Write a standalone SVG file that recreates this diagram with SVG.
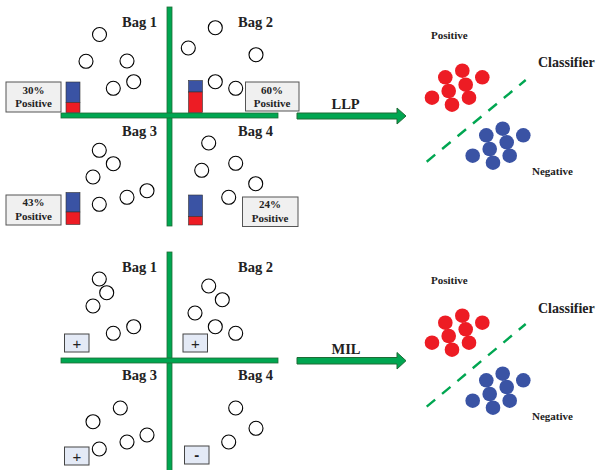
<svg xmlns="http://www.w3.org/2000/svg" width="600" height="470" viewBox="0 0 600 470">
<defs>
<style>
.bar{fill:#00a651;stroke:#1e6b35;stroke-width:0.8}
.c{fill:#fff;stroke:#000;stroke-width:1.1}
.r{fill:#ed1c24}
.b{fill:#3a53a4}
.bag{font-family:"Liberation Serif",serif;font-weight:bold;font-size:14.5px;fill:#222}
.lbl{font-family:"Liberation Serif",serif;font-weight:bold;font-size:11px;fill:#222;text-anchor:middle}
.sm{font-family:"Liberation Serif",serif;font-weight:bold;font-size:11px;fill:#222}
.cls{font-family:"Liberation Serif",serif;font-weight:bold;font-size:14px;fill:#222}
.pbox{fill:#f0f0f0;stroke:#555;stroke-width:1}
.sbox{fill:#e4eaf6;stroke:#444;stroke-width:1}
.sym{font-family:"Liberation Sans",sans-serif;font-size:15px;fill:#222;text-anchor:middle}
.dash{stroke:#00a651;stroke-width:2.4;stroke-dasharray:11,9;fill:none}
.arr{fill:#00a651;stroke:#1e6b35;stroke-width:1}
.blue{fill:#3a53a4;stroke:#333;stroke-width:0.6}
.red{fill:#ed1c24;stroke:#333;stroke-width:0.6}
</style>
</defs>

<!-- TOP: LLP -->
<g id="llp-axes">
<rect class="bar" x="167" y="7" width="5" height="219"/>
<rect class="bar" x="61" y="113" width="217" height="5"/>
</g>
<g id="llp-bag1">
<text class="bag" x="122" y="27">Bag 1</text>
<circle class="c" cx="99.5" cy="34.5" r="7"/>
<circle class="c" cx="86" cy="61.3" r="7"/>
<circle class="c" cx="127" cy="61" r="7"/>
<circle class="c" cx="113.3" cy="88.3" r="7"/>
<circle class="c" cx="133.7" cy="81.7" r="7"/>
<rect class="pbox" x="6" y="82" width="55" height="30"/>
<text class="lbl" x="33.5" y="93.5">30%</text>
<text class="lbl" x="33.5" y="107">Positive</text>
<rect class="blue" x="66" y="82" width="14" height="20.5"/>
<rect class="red" x="66" y="102.5" width="14" height="10"/>
</g>
<g id="llp-bag2">
<text class="bag" x="238" y="27">Bag 2</text>
<circle class="c" cx="215.3" cy="27.7" r="7"/>
<circle class="c" cx="188.3" cy="48" r="7"/>
<circle class="c" cx="256" cy="54.7" r="7"/>
<circle class="c" cx="215.3" cy="81.7" r="7"/>
<circle class="c" cx="235.7" cy="88.3" r="7"/>
<rect class="pbox" x="245.5" y="82" width="53.5" height="29"/>
<text class="lbl" x="272" y="93.5">60%</text>
<text class="lbl" x="272" y="107">Positive</text>
<rect class="blue" x="188.5" y="80.5" width="14" height="11.5"/>
<rect class="red" x="188.5" y="92" width="14" height="20.5"/>
</g>
<g id="llp-bag3">
<text class="bag" x="122" y="136">Bag 3</text>
<circle class="c" cx="99.3" cy="150.3" r="7"/>
<circle class="c" cx="113.3" cy="163.7" r="7"/>
<circle class="c" cx="93" cy="177" r="7"/>
<circle class="c" cx="99.3" cy="204.3" r="7"/>
<circle class="c" cx="127" cy="197.3" r="7"/>
<circle class="c" cx="147" cy="190.7" r="7"/>
<rect class="pbox" x="6" y="195" width="55" height="30"/>
<text class="lbl" x="33.5" y="206">43%</text>
<text class="lbl" x="33.5" y="220">Positive</text>
<rect class="blue" x="66" y="192.5" width="14" height="19.5"/>
<rect class="red" x="66" y="212" width="14" height="12.5"/>
</g>
<g id="llp-bag4">
<text class="bag" x="238" y="136">Bag 4</text>
<circle class="c" cx="208.7" cy="143" r="7"/>
<circle class="c" cx="235.7" cy="163.3" r="7"/>
<circle class="c" cx="201.7" cy="170.3" r="7"/>
<circle class="c" cx="255.7" cy="183.7" r="7"/>
<circle class="c" cx="228.7" cy="197.3" r="7"/>
<rect class="pbox" x="242.5" y="197" width="55.5" height="29.5"/>
<text class="lbl" x="270" y="208">24%</text>
<text class="lbl" x="270" y="222">Positive</text>
<rect class="blue" x="188.5" y="195" width="14" height="21.5"/>
<rect class="red" x="188.5" y="216.5" width="14" height="8.5"/>
</g>
<g id="llp-classifier">
<text class="sm" x="431" y="38.5">Positive</text>
<text class="cls" x="538" y="67">Classifier</text>
<text class="sm" x="532" y="175">Negative</text>
<line class="dash" x1="426.7" y1="161.7" x2="525.7" y2="80"/>
<circle class="r" cx="445.3" cy="77.3" r="7.3"/>
<circle class="r" cx="462.3" cy="70.7" r="7.3"/>
<circle class="r" cx="482.3" cy="77.3" r="7.3"/>
<circle class="r" cx="465.7" cy="84.7" r="7.3"/>
<circle class="r" cx="448.7" cy="91" r="7.3"/>
<circle class="r" cx="432" cy="97.7" r="7.3"/>
<circle class="r" cx="469" cy="97.7" r="7.3"/>
<circle class="r" cx="452" cy="104.7" r="7.3"/>
<circle class="b" cx="502.7" cy="128.7" r="7.3"/>
<circle class="b" cx="523.3" cy="135.3" r="7.3"/>
<circle class="b" cx="486.3" cy="135.3" r="7.3"/>
<circle class="b" cx="506.7" cy="142.3" r="7.3"/>
<circle class="b" cx="489.7" cy="149" r="7.3"/>
<circle class="b" cx="509.7" cy="155.7" r="7.3"/>
<circle class="b" cx="472.7" cy="155.7" r="7.3"/>
<circle class="b" cx="493" cy="162.7" r="7.3"/>
</g>

<!-- BOTTOM: MIL -->
<g id="mil-axes">
<rect class="bar" x="167" y="252" width="5" height="220"/>
<rect class="bar" x="61" y="358" width="217" height="5"/>
</g>
<g id="mil-bag1">
<text class="bag" x="122" y="272">Bag 1</text>
<circle class="c" cx="99.3" cy="279" r="7"/>
<circle class="c" cx="106.7" cy="292.7" r="7"/>
<circle class="c" cx="93" cy="306" r="7"/>
<circle class="c" cx="113.3" cy="333.3" r="7"/>
<circle class="c" cx="133.7" cy="326.7" r="7"/>
<rect class="sbox" x="64.5" y="334" width="24.5" height="18"/>
<text class="sym" x="76.8" y="348.5">+</text>
</g>
<g id="mil-bag2">
<text class="bag" x="238" y="272">Bag 2</text>
<circle class="c" cx="208.7" cy="286" r="7"/>
<circle class="c" cx="222.3" cy="299.7" r="7"/>
<circle class="c" cx="195" cy="313" r="7"/>
<circle class="c" cx="215.3" cy="326.7" r="7"/>
<circle class="c" cx="235.7" cy="333.3" r="7"/>
<rect class="sbox" x="183" y="334" width="24.5" height="18"/>
<text class="sym" x="195.3" y="348.5">+</text>
</g>
<g id="mil-bag3">
<text class="bag" x="122" y="380">Bag 3</text>
<circle class="c" cx="120.3" cy="408" r="7"/>
<circle class="c" cx="93" cy="421.7" r="7"/>
<circle class="c" cx="147" cy="435" r="7"/>
<circle class="c" cx="127" cy="442" r="7"/>
<circle class="c" cx="99.3" cy="449" r="7"/>
<rect class="sbox" x="64.5" y="447" width="24.5" height="18"/>
<text class="sym" x="76.8" y="461.5">+</text>
</g>
<g id="mil-bag4">
<text class="bag" x="238" y="380">Bag 4</text>
<circle class="c" cx="235.7" cy="408" r="7"/>
<circle class="c" cx="256" cy="428.3" r="7"/>
<circle class="c" cx="228.7" cy="442" r="7"/>
<rect class="sbox" x="184.5" y="446" width="24.5" height="18"/>
<text class="sym" x="196.8" y="460" font-weight="bold">-</text>
</g>
<g id="mil-classifier">
<text class="sm" x="431" y="284">Positive</text>
<text class="cls" x="538" y="312.5">Classifier</text>
<text class="sm" x="532" y="419.5">Negative</text>
<line class="dash" x1="426.7" y1="406.7" x2="525.7" y2="324"/>
<circle class="r" cx="445.3" cy="322.7" r="7.3"/>
<circle class="r" cx="462.3" cy="315.7" r="7.3"/>
<circle class="r" cx="482.3" cy="322.7" r="7.3"/>
<circle class="r" cx="465.7" cy="329.3" r="7.3"/>
<circle class="r" cx="448.7" cy="336" r="7.3"/>
<circle class="r" cx="432" cy="342.7" r="7.3"/>
<circle class="r" cx="469" cy="342.7" r="7.3"/>
<circle class="r" cx="452" cy="349.7" r="7.3"/>
<circle class="b" cx="502.7" cy="373.7" r="7.3"/>
<circle class="b" cx="523.3" cy="380.3" r="7.3"/>
<circle class="b" cx="486.3" cy="380.3" r="7.3"/>
<circle class="b" cx="506.7" cy="387" r="7.3"/>
<circle class="b" cx="489.7" cy="394" r="7.3"/>
<circle class="b" cx="509.7" cy="400.7" r="7.3"/>
<circle class="b" cx="472.7" cy="400.7" r="7.3"/>
<circle class="b" cx="493" cy="407.7" r="7.3"/>
</g>

<g id="connectors">
<path class="arr" d="M297,113 L397,113 L397,108 L406,116 L397,124 L397,119 L297,119 Z"/>
<text class="bag" x="331.5" y="108.5" font-size="15px">LLP</text>
<path class="arr" d="M297,357.5 L397,357.5 L397,352.5 L406,360.7 L397,369 L397,364 L297,364 Z"/>
<text class="bag" x="331.5" y="353.5">MIL</text>
</g>
</svg>
